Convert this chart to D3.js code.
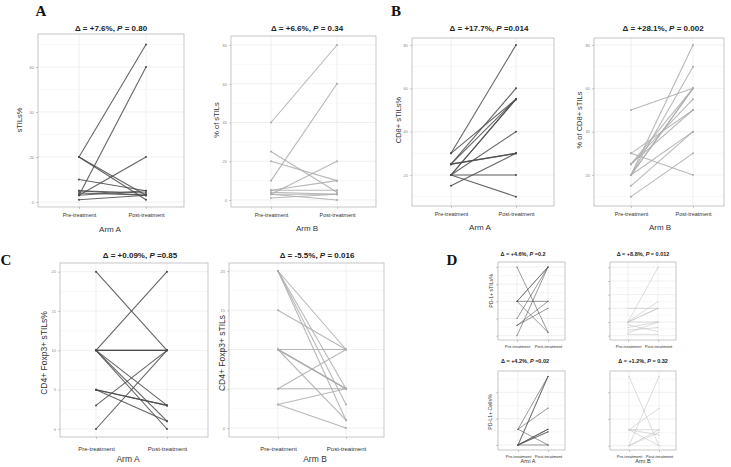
<!DOCTYPE html>
<html><head><meta charset="utf-8">
<script src="https://cdn.jsdelivr.net/npm/d3@7"></script>
<style>
body{margin:0;background:#fff;}
svg text{font-family:"Liberation Sans",Arial,sans-serif;}
</style>
</head><body>
<svg id="c" width="731" height="467"></svg>
<script>
// ---- data ----
const xCats = ["Pre-treatment", "Post-treatment"];

// A: sTILs
const aArmAPre  = [20, 3, 20, 20, 10, 3, 5, 5, 3, 1, 4];
const aArmAPost = [70, 60, 3, 1, 5, 20, 3, 4, 5, 3, 3];
const aArmBPre  = [40, 10, 25, 20, 3, 5, 5, 3, 1, 3, 4];
const aArmBPost = [80, 60, 4, 10, 20, 5, 10, 3, 3, 0, 3];
const aArmATicks = [0, 20, 40, 60];
const aArmBTicks = [0, 20, 40, 60, 80];

// B: CD8+ sTILs
const bArmAPre  = [30, 25, 30, 25, 20, 20, 25, 20, 15, 20, 20, 25];
const bArmAPost = [80, 60, 55, 55, 55, 55, 30, 40, 30, 20, 10, 30];
const bArmBPre  = [20, 20, 50, 30, 25, 25, 20, 20, 30, 25, 15, 10, 20];
const bArmBPost = [80, 70, 60, 20, 60, 55, 60, 60, 50, 50, 40, 30, 40];
const bTicks = [20, 40, 60, 80];

// C: CD4+ Foxp3+ sTILs
const cArmAPre  = [20, 10, 10, 10, 10, 10, 10, 5, 5, 5, 3, 0];
const cArmAPost = [10, 20, 10, 10, 1, 0, 3, 3, 1, 3, 10, 10];
const cArmBPre  = [20, 20, 20, 20, 15, 10, 10, 10, 10, 10, 5, 5, 3, 3];
const cArmBPost = [10, 1, 3, 5, 10, 10, 5, 5, 1, 5, 10, 5, 5, 0];
const cTicks = [0, 5, 10, 15, 20];

// D: PD-1+ sTILs and PD-L1+ cells
const dPd1APre   = [4, 2, 2, 2, 0, 1, 0.6, 2, 0.6];
const dPd1APost  = [0.2, 2, 4, 4, 4, 4, 2, 0.2, 1.6];
const dPd1BPre   = [1, 1, 1, 1, 2, 1, 0.6, 0.4, 0.2, 0.8, 0.1];
const dPd1BPost  = [5, 2.5, 2, 2, 2, 1, 1, 0.6, 1, 0.3, 0.1];
const dPdl1APre  = [0, 0.6, 0, 0.6, 0.6, 0, 0, 0, 0, 0, 0];
const dPdl1APost = [2.6, 2.6, 2.6, 1.4, 0, 0.6, 0.6, 0.6, 0.5, 0.5, 0];
const dPdl1BPre  = [2.6, 0, 0.6, 0.6, 0.6, 0, 0, 0.6];
const dPdl1BPost = [0, 2.6, 1.4, 0, 0.6, 0.6, 0.5, 0.4];
const dPd1ATicks = [0, 1, 2, 3, 4];
const dPd1BTicks = [0, 1, 2, 3, 4, 5];
const dPdl1Ticks = [0, 1, 2];

// ---- drawing ----
const svg = d3.select("#c");

function panel(cfg) {
  const [fx0, fy0, fx1, fy1] = cfg.frame;
  const g = svg.append("g");
  const x = d3.scalePoint().domain(xCats).range([cfg.xr[0], cfg.xr[1]]).padding(0);
  const y = d3.scaleLinear().domain(cfg.yd).range(cfg.yr);
  const vMin = y.invert(fy1), vMax = y.invert(fy0);
  const step = cfg.ticks[1] - cfg.ticks[0];
  const minors = [];
  for (let v = cfg.ticks[0] - step / 2; v <= vMax; v += step) if (v >= vMin) minors.push(v);
  g.selectAll(".mn").data(minors).enter().append("line")
    .attr("x1", fx0).attr("x2", fx1).attr("y1", d => y(d)).attr("y2", d => y(d))
    .attr("stroke", "#f1f1f1").attr("stroke-width", 0.5);
  g.selectAll(".mj").data(cfg.ticks).enter().append("line")
    .attr("x1", fx0).attr("x2", fx1).attr("y1", d => y(d)).attr("y2", d => y(d))
    .attr("stroke", "#e6e6e6").attr("stroke-width", 0.6);
  g.selectAll(".vg").data(xCats).enter().append("line")
    .attr("x1", d => x(d)).attr("x2", d => x(d)).attr("y1", fy0).attr("y2", fy1)
    .attr("stroke", "#e6e6e6").attr("stroke-width", 0.6);
  g.append("rect").attr("x", fx0).attr("y", fy0).attr("width", fx1 - fx0).attr("height", fy1 - fy0)
    .attr("fill", "none").attr("stroke", "#b8b8b8").attr("stroke-width", 0.8);
  const pairs = cfg.pre.map((p, i) => [[xCats[0], p], [xCats[1], cfg.post[i]]]);
  const line = d3.line().x(d => x(d[0])).y(d => y(d[1]));
  g.selectAll(".ln").data(pairs).enter().append("path")
    .attr("d", line).attr("fill", "none").attr("stroke", cfg.color)
    .attr("stroke-width", cfg.lw).attr("stroke-opacity", 0.85);
  const pts = pairs.flat();
  g.selectAll(".pt").data(pts).enter().append("circle")
    .attr("cx", d => x(d[0])).attr("cy", d => y(d[1])).attr("r", cfg.r)
    .attr("fill", cfg.color);
  const ya = g.append("g").attr("transform", `translate(${fx0},0)`)
    .call(d3.axisLeft(y).tickValues(cfg.ticks).tickSize(2).tickPadding(2));
  ya.select(".domain").remove();
  ya.selectAll(".tick line").attr("stroke", "#999").attr("stroke-width", 0.5);
  ya.selectAll(".tick text").attr("fill", "#888").style("font-size", cfg.tfs + "px")
    .style("display", cfg.tickLabels ? null : "none");
  const xa = g.append("g").attr("transform", `translate(0,${fy1})`)
    .call(d3.axisBottom(x).tickSize(2).tickPadding(cfg.xpad));
  xa.select(".domain").remove();
  xa.selectAll(".tick line").attr("stroke", "#999").attr("stroke-width", 0.5);
  xa.selectAll(".tick text").attr("fill", "#333").style("font-size", cfg.xfs + "px");
  const t = g.append("text").attr("x", cfg.tx).attr("y", cfg.ty).attr("text-anchor", "middle")
    .style("font-size", cfg.tsz + "px").style("font-weight", "bold").attr("fill", "#222");
  t.append("tspan").text(cfg.title[0]);
  t.append("tspan").style("font-style", "italic").text("P");
  t.append("tspan").text(cfg.title[1]);
  if (cfg.ylab) {
    g.append("text").attr("transform", `translate(${cfg.ylx},${cfg.yly}) rotate(-90)`)
      .attr("text-anchor", "middle").style("font-size", cfg.ylfs + "px").attr("fill", "#333")
      .text(cfg.ylab);
  }
  if (cfg.xlab) {
    g.append("text").attr("x", cfg.xlx).attr("y", cfg.xly).attr("text-anchor", "middle")
      .style("font-size", cfg.xlfs + "px").attr("fill", "#333").text(cfg.xlab);
  }
}

const dark = "#4a4a4a", light = "#ababab", lighter = "#c4c4c4";
const big = {lw: 1.1, r: 1, tfs: 4, xfs: 5.5, xpad: 4, tsz: 8, ylfs: 7.5, xlfs: 8, tickLabels: true};

panel(Object.assign({}, big, {frame: [38, 34, 184, 207], xr: [79, 146], yd: [0, 60], yr: [202, 67],
  ticks: aArmATicks, pre: aArmAPre, post: aArmAPost, color: dark,
  title: ["\u0394 = +7.6%, ", " = 0.80"], tx: 111, ty: 31, ylab: "sTILs%", ylx: 22, yly: 120,
  xlab: "Arm A", xlx: 110, xly: 232}));
panel(Object.assign({}, big, {frame: [231, 36, 376, 207], xr: [271, 337], yd: [0, 80], yr: [200, 45],
  ticks: aArmBTicks, pre: aArmBPre, post: aArmBPost, color: light,
  title: ["\u0394 = +6.6%, ", " = 0.34"], tx: 307, ty: 31, ylab: "% of sTILs", ylx: 219, yly: 120,
  xlab: "Arm B", xlx: 307, xly: 231}));
panel(Object.assign({}, big, {frame: [412, 38, 554, 206], xr: [451, 516], yd: [20, 80], yr: [175, 45],
  ticks: bTicks, pre: bArmAPre, post: bArmAPost, color: dark,
  title: ["\u0394 = +17.7%, ", " =0.014"], tx: 489, ty: 31, ylab: "CD8+ sTILs%", ylx: 401, yly: 120,
  xlab: "Arm A", xlx: 480, xly: 230}));
panel(Object.assign({}, big, {frame: [594, 38, 724, 206], xr: [631, 693], yd: [20, 80], yr: [175, 45],
  ticks: bTicks, pre: bArmBPre, post: bArmBPost, color: light,
  title: ["\u0394 = +28.1%, ", " = 0.002"], tx: 663, ty: 31, ylab: "% of CD8+ sTILs", ylx: 582, yly: 120,
  xlab: "Arm B", xlx: 660, xly: 230}));
panel(Object.assign({}, big, {frame: [60, 263, 208, 437], xr: [96, 167], yd: [0, 20], yr: [429, 271.7],
  ticks: cTicks, pre: cArmAPre, post: cArmAPost, color: dark, xfs: 6, xpad: 8, ylfs: 8.5, xlfs: 8.5,
  title: ["\u0394 = +0.09%, ", " =0.85"], tx: 140, ty: 258, ylab: "CD4+ Foxp3+ sTILs%", ylx: 47, yly: 353,
  xlab: "Arm A", xlx: 128, xly: 462}));
panel(Object.assign({}, big, {frame: [229, 263, 384, 437], xr: [278, 346], yd: [0, 20], yr: [428, 271],
  ticks: cTicks, pre: cArmBPre, post: cArmBPost, color: light, xfs: 6, xpad: 8, ylfs: 8.5, xlfs: 8.5,
  title: ["\u0394 = -5.5%, ", " = 0.016"], tx: 317, ty: 258, ylab: "CD4+ Foxp3+ sTILs", ylx: 225, yly: 353,
  xlab: "Arm B", xlx: 315, xly: 462}));

const small = {lw: 0.7, r: 0.5, tfs: 3, xfs: 4.2, xpad: 3, tsz: 5.5, ylfs: 5.2, xlfs: 5.5, tickLabels: false};
panel(Object.assign({}, small, {frame: [498, 262, 565, 340], xr: [517, 548], yd: [0, 4], yr: [335.7, 267],
  ticks: dPd1ATicks, pre: dPd1APre, post: dPd1APost, color: "#555",
  title: ["\u0394 = +4.6%, ", " =0.2"], tx: 523, ty: 256, ylab: "PD-1+ sTILs%", ylx: 493, yly: 291}));
panel(Object.assign({}, small, {frame: [610, 262, 676, 340], xr: [628, 658], yd: [0, 5], yr: [335.7, 267.3],
  ticks: dPd1BTicks, pre: dPd1BPre, post: dPd1BPost, color: lighter,
  title: ["\u0394 = +8.8%, ", " = 0.012"], tx: 643, ty: 256, ylab: "", ylx: 600, yly: 291}));
panel(Object.assign({}, small, {frame: [498, 371, 565, 450], xr: [518, 548], yd: [0, 2], yr: [445, 392.3],
  ticks: dPdl1Ticks, pre: dPdl1APre, post: dPdl1APost, color: "#555",
  title: ["\u0394 = +4.2%, ", " =0.02"], tx: 525, ty: 363, ylab: "PD-L1+ Cells%", ylx: 492, yly: 412,
  xlab: "Arm A", xlx: 528, xly: 463}));
panel(Object.assign({}, small, {frame: [610, 371, 676, 450], xr: [629, 659], yd: [0, 2], yr: [445.7, 392.3],
  ticks: dPdl1Ticks, pre: dPdl1BPre, post: dPdl1BPost, color: lighter,
  title: ["\u0394 = +1.2%, ", " = 0.32"], tx: 643, ty: 363, ylab: "", ylx: 600, yly: 412,
  xlab: "Arm B", xlx: 643, xly: 463}));

const letters = [["A", 41, 16], ["B", 396, 16], ["C", 6, 265], ["D", 452, 265]];
svg.selectAll(".lt").data(letters).enter().append("text")
  .attr("x", d => d[1]).attr("y", d => d[2]).attr("text-anchor", "middle")
  .style("font-family", "'Liberation Serif','Times New Roman',serif").style("font-weight", "bold")
  .style("font-size", "15px").attr("fill", "#111").text(d => d[0]);
</script>
</body></html>
